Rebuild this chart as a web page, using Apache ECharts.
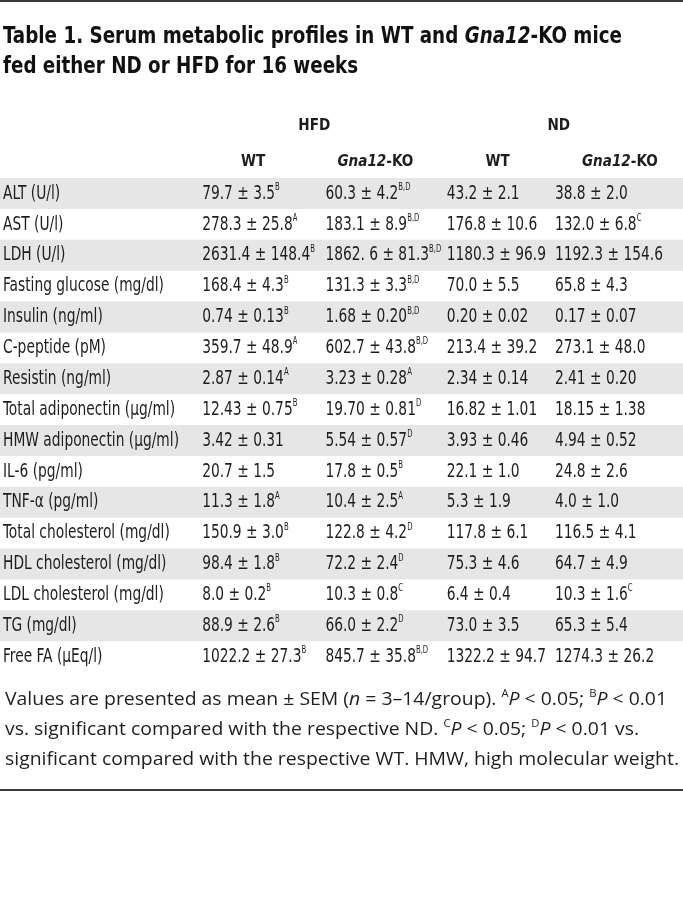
<!DOCTYPE html>
<html><head><meta charset="utf-8">
<script src="https://cdn.jsdelivr.net/npm/echarts@6/dist/echarts.min.js"></script>
<style>html,body{margin:0;padding:0;background:#fff}#c{width:683px;height:898px}</style>
</head><body><div id="c"></div>
<script>
// ---------- data ----------
const groupLabels = ['HFD', 'ND'];
const columnLabels = ['WT', 'Gna12-KO', 'WT', 'Gna12-KO'];
const rowLabels = ['ALT (U/l)', 'AST (U/l)', 'LDH (U/l)', 'Fasting glucose (mg/dl)', 'Insulin (ng/ml)',
  'C-peptide (pM)', 'Resistin (ng/ml)', 'Total adiponectin (μg/ml)', 'HMW adiponectin (μg/ml)',
  'IL-6 (pg/ml)', 'TNF-α (pg/ml)', 'Total cholesterol (mg/dl)', 'HDL cholesterol (mg/dl)',
  'LDL cholesterol (mg/dl)', 'TG (mg/dl)', 'Free FA (μEq/l)'];
const hfdWT = ['79.7 ± 3.5', '278.3 ± 25.8', '2631.4 ± 148.4', '168.4 ± 4.3', '0.74 ± 0.13', '359.7 ± 48.9',
  '2.87 ± 0.14', '12.43 ± 0.75', '3.42 ± 0.31', '20.7 ± 1.5', '11.3 ± 1.8', '150.9 ± 3.0', '98.4 ± 1.8',
  '8.0 ± 0.2', '88.9 ± 2.6', '1022.2 ± 27.3'];
const hfdWTSig = ['B', 'A', 'B', 'B', 'B', 'A', 'A', 'B', '', '', 'A', 'B', 'B', 'B', 'B', 'B'];
const hfdKO = ['60.3 ± 4.2', '183.1 ± 8.9', '1862. 6 ± 81.3', '131.3 ± 3.3', '1.68 ± 0.20', '602.7 ± 43.8',
  '3.23 ± 0.28', '19.70 ± 0.81', '5.54 ± 0.57', '17.8 ± 0.5', '10.4 ± 2.5', '122.8 ± 4.2', '72.2 ± 2.4',
  '10.3 ± 0.8', '66.0 ± 2.2', '845.7 ± 35.8'];
const hfdKOSig = ['B,D', 'B,D', 'B,D', 'B,D', 'B,D', 'B,D', 'A', 'D', 'D', 'B', 'A', 'D', 'D', 'C', 'D', 'B,D'];
const ndWT = ['43.2 ± 2.1', '176.8 ± 10.6', '1180.3 ± 96.9', '70.0 ± 5.5', '0.20 ± 0.02', '213.4 ± 39.2',
  '2.34 ± 0.14', '16.82 ± 1.01', '3.93 ± 0.46', '22.1 ± 1.0', '5.3 ± 1.9', '117.8 ± 6.1', '75.3 ± 4.6',
  '6.4 ± 0.4', '73.0 ± 3.5', '1322.2 ± 94.7'];
const ndWTSig = ['', '', '', '', '', '', '', '', '', '', '', '', '', '', '', ''];
const ndKO = ['38.8 ± 2.0', '132.0 ± 6.8', '1192.3 ± 154.6', '65.8 ± 4.3', '0.17 ± 0.07', '273.1 ± 48.0',
  '2.41 ± 0.20', '18.15 ± 1.38', '4.94 ± 0.52', '24.8 ± 2.6', '4.0 ± 1.0', '116.5 ± 4.1', '64.7 ± 4.9',
  '10.3 ± 1.6', '65.3 ± 5.4', '1274.3 ± 26.2'];
const ndKOSig = ['', 'C', '', '', '', '', '', '', '', '', '', '', '', 'C', '', ''];

// ---------- styling helpers ----------
const cv = document.createElement('canvas');
const ctx = cv.getContext('2d');
function tw(t, font) { ctx.font = font; return ctx.measureText(t).width; }
function hasFont(name) {
  const s = 'abcdefghijklmnopqrstuvwxyz0123456789ABCDEFG';
  return Math.abs(tw(s, '20px monospace') - tw(s, "20px '" + name + "', monospace")) > 0.5;
}
const narrow = hasFont('Liberation Sans Narrow') ? "'Liberation Sans Narrow'" :
  (hasFont('DejaVu Sans Condensed') ? "'DejaVu Sans Condensed'" : 'Roboto');
const bodySize = 20;
const bodyScale = 161 / tw('Fasting glucose (mg/dl)', bodySize + 'px ' + narrow);
const titleSize = 23;
const titleScale = 619 / tw('Table 1. Serum metabolic profiles in WT and Gna12-KO mice', 'bold ' + titleSize + 'px ' + narrow);
let headSize = 20 * 76 / tw('Gna12-KO', 'bold 20px ' + narrow);
headSize = Math.max(15, Math.min(22, headSize));
const fnFont = "'Open Sans'";
const fnSize = 19;
const fnScale = 674 / tw('significant compared with the respective WT. HMW, high molecular weight.', fnSize + 'px ' + fnFont);
const textColor = '#1e1e1e';
const bandColor = '#e6e6e6';
const colStartOffset = [-51, -50, -51, -65];

const columns = [[hfdWT, hfdWTSig], [hfdKO, hfdKOSig], [ndWT, ndWTSig], [ndKO, ndKOSig]];
const cellData = [];
columns.forEach(function (col, c) {
  col[0].forEach(function (txt, r) { cellData.push([c, r, txt, col[1][r]]); });
});
const rowData = rowLabels.map(function (l, r) { return [0, r, l]; });

const richBody = {
  v: { fontFamily: narrow, fontSize: bodySize, color: textColor, lineHeight: 22, verticalAlign: 'middle' },
  s: { fontFamily: narrow, fontSize: 10, color: textColor, lineHeight: 22, verticalAlign: 'top' }
};
const fnRich = {
  r: { fontFamily: fnFont, fontSize: fnSize, fill: textColor, lineHeight: 24, verticalAlign: 'middle' },
  i: { fontFamily: fnFont, fontSize: fnSize, fontStyle: 'italic', fill: textColor, lineHeight: 24, verticalAlign: 'middle' },
  s: { fontFamily: fnFont, fontSize: 11, fill: textColor, lineHeight: 24, verticalAlign: 'top' }
};

const chart = echarts.init(document.getElementById('c'), null, { renderer: 'canvas' });
const W = 683;
chart.setOption({
  animation: false,
  backgroundColor: '#ffffff',
  grid: { left: 192, right: 2, top: 178, height: 494 },
  xAxis: [{
    type: 'category', position: 'top', data: columnLabels,
    axisLine: { show: false }, axisTick: { show: false }, splitLine: { show: false },
    axisLabel: {
      margin: 8, color: textColor,
      formatter: function (v) { return v.indexOf('Gna12') === 0 ? '{i|Gna12}{b|' + v.slice(5) + '}' : '{b|' + v + '}'; },
      rich: {
        b: { fontFamily: narrow, fontWeight: 'bold', fontSize: headSize, color: textColor },
        i: { fontFamily: narrow, fontWeight: 'bold', fontStyle: 'italic', fontSize: headSize, color: textColor }
      }
    }
  }, {
    type: 'category', position: 'top', offset: 36, data: groupLabels,
    axisLine: { show: false }, axisTick: { show: false }, splitLine: { show: false },
    axisLabel: { margin: 8, color: textColor, fontFamily: narrow, fontWeight: 'bold', fontSize: headSize }
  }],
  yAxis: {
    type: 'category', inverse: true, data: rowLabels,
    axisLine: { show: false }, axisTick: { show: false }, axisLabel: { show: false }, splitLine: { show: false }
  },
  series: [{
    type: 'custom', z: 1, data: rowData, encode: { x: 0, y: 1 },
    renderItem: function (params, api) {
      const r = api.value(1);
      const y = api.coord([0, r])[1];
      const h = api.size([0, 1])[1];
      const children = [];
      if (r % 2 === 0) {
        children.push({ type: 'rect', shape: { x: 0, y: y - h / 2, width: api.getWidth(), height: h }, style: { fill: bandColor } });
      }
      children.push({
        type: 'text', x: params.coordSys.x - 189, y: y, scaleX: bodyScale,
        style: { text: rowLabels[r], fontFamily: narrow, fontSize: bodySize, fill: textColor, align: 'left', verticalAlign: 'middle' }
      });
      return { type: 'group', children: children };
    }
  }, {
    type: 'custom', z: 2, data: cellData, encode: { x: 0, y: 1 },
    renderItem: function (params, api) {
      const d = cellData[params.dataIndex];
      const p = api.coord([d[0], d[1]]);
      let t = '{v|' + d[2] + '}';
      if (d[3]) t += '{s|' + d[3] + '}';
      return {
        type: 'text', x: p[0] + colStartOffset[d[0]], y: p[1], scaleX: bodyScale,
        style: { text: t, rich: richBody, align: 'left', verticalAlign: 'middle', fill: textColor }
      };
    }
  }],
  graphic: [
    { type: 'rect', shape: { x: 0, y: 0, width: W, height: 2 }, style: { fill: '#3a3a3a' } },
    { type: 'text', x: 3, y: 37, scaleX: titleScale, style: {
      text: '{b|Table 1. Serum metabolic profiles in WT and }{i|Gna12}{b|-KO mice}',
      verticalAlign: 'middle',
      rich: {
        b: { fontFamily: narrow, fontWeight: 'bold', fontSize: titleSize, fill: '#111' },
        i: { fontFamily: narrow, fontWeight: 'bold', fontStyle: 'italic', fontSize: titleSize, fill: '#111' }
      } } },
    { type: 'text', x: 3, y: 67, scaleX: titleScale, style: {
      text: 'fed either ND or HFD for 16 weeks', verticalAlign: 'middle',
      fontFamily: narrow, fontWeight: 'bold', fontSize: titleSize, fill: '#111' } },
    { type: 'text', x: 5, y: 700, scaleX: fnScale, style: {
      text: '{r|Values are presented as mean ± SEM (}{i|n}{r| = 3–14/group). }{s|A}{i|P}{r| < 0.05; }{s|B}{i|P}{r| < 0.01}',
      verticalAlign: 'middle', rich: fnRich } },
    { type: 'text', x: 5, y: 730, scaleX: fnScale, style: {
      text: '{r|vs. significant compared with the respective ND. }{s|C}{i|P}{r| < 0.05; }{s|D}{i|P}{r| < 0.01 vs.}',
      verticalAlign: 'middle', rich: fnRich } },
    { type: 'text', x: 5, y: 760, scaleX: fnScale, style: {
      text: '{r|significant compared with the respective WT. HMW, high molecular weight.}',
      verticalAlign: 'middle', rich: fnRich } },
    { type: 'rect', shape: { x: 0, y: 789, width: W, height: 2 }, style: { fill: '#3a3a3a' } }
  ]
});
</script>
</body></html>
